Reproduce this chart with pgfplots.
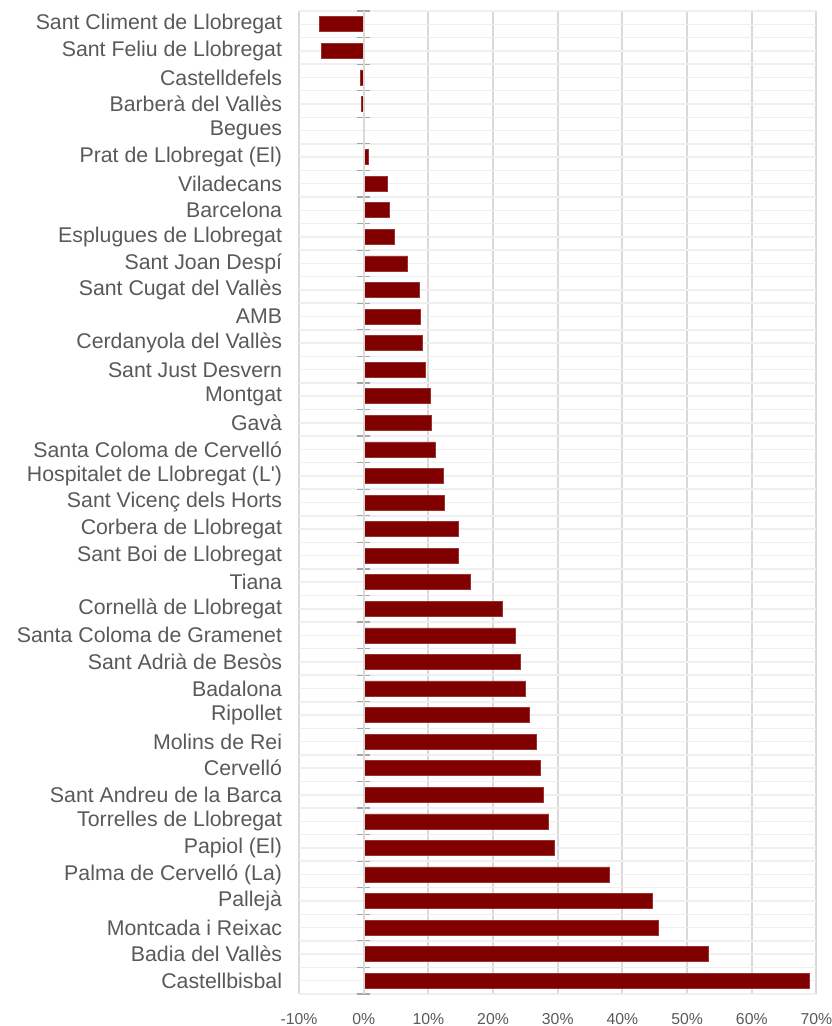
\documentclass[border=0pt]{standalone}
\usepackage{pgfplots}
\pgfplotsset{compat=1.18}
\usepackage{fontspec}
\setmainfont{Liberation Sans}[Ligatures=TeXOff]
\definecolor{barred}{HTML}{800000}
\definecolor{labgray}{HTML}{595959}
\definecolor{vgrid}{HTML}{D9D9D9}
\definecolor{hgrid}{HTML}{EFEFEF}
\begin{document}
\begin{tikzpicture}
\useasboundingbox (-149.5pt,-16pt) rectangle (266pt,497pt);
\begin{axis}[
  at={(0,0)}, anchor=south west, scale only axis,
  width=258.75pt, height=491.5pt,
  xbar, bar width=0.565, y dir=reverse,
  xmin=-10, xmax=70, ymin=-0.5, ymax=36.5,
  xtick={-10,0,10,20,30,40,50,60,70},
  xticklabels={-10\%,0\%,10\%,20\%,30\%,40\%,50\%,60\%,70\%},
  ytick={0,...,36},
  minor ytick={-0.5,0.5,...,36.5},
  yticklabels={Sant Climent de Llobregat,Sant Feliu de Llobregat,Castelldefels,Barberà del Vallès,Begues,Prat de Llobregat (El),Viladecans,Barcelona,Esplugues de Llobregat,Sant Joan Despí,Sant Cugat del Vallès,AMB,Cerdanyola del Vallès,Sant Just Desvern,Montgat,Gavà,Santa Coloma de Cervelló,Hospitalet de Llobregat (L'),Sant Vicenç dels Horts,Corbera de Llobregat,Sant Boi de Llobregat,Tiana,Cornellà de Llobregat,Santa Coloma de Gramenet,Sant Adrià de Besòs,Badalona,Ripollet,Molins de Rei,Cervelló,Sant Andreu de la Barca,Torrelles de Llobregat,Papiol (El),Palma de Cervelló (La),Pallejà,Montcada i Reixac,Badia del Vallès,Castellbisbal},
  xmajorgrids, ymajorgrids, yminorgrids,
  x grid style={draw=vgrid, line width=1pt},
  y grid style={draw=hgrid, line width=0.75pt},
  tick style={draw=none},
  axis line style={draw=none},
  yticklabel style={font=\fontsize{10.65}{12}\selectfont, text=labgray, anchor=east, inner sep=0pt, xshift=-4pt},
  xticklabel style={font=\fontsize{7.9}{9}\selectfont, text=labgray, anchor=north, inner sep=0pt, yshift=-9.5pt},
  clip=false,
]
\addplot[fill=barred, draw=barred!80!white, line width=0.3pt] coordinates {
(-6.8,0) (-6.5,1) (-0.56,2) (-0.35,3) (0,4) (0.7,5) (3.7,6) (3.9,7) (4.7,8) (6.8,9)
(8.6,10) (8.8,11) (9.1,12) (9.6,13) (10.3,14) (10.4,15) (11.0,16) (12.3,17) (12.4,18)
(14.6,19) (14.6,20) (16.5,21) (21.4,22) (23.4,23) (24.2,24) (25.0,25) (25.6,26)
(26.7,27) (27.3,28) (27.7,29) (28.6,30) (29.4,31) (38.0,32) (44.6,33) (45.5,34)
(53.2,35) (68.9,36)};
\end{axis}
\begin{axis}[
  at={(0,0)}, anchor=south west, scale only axis,
  width=258.75pt, height=491.5pt,
  y dir=reverse,
  xmin=-10, xmax=70, ymin=-0.5, ymax=36.5,
  axis x line=none, axis y line=middle,
  axis line style={-, draw=vgrid, line width=1pt},
  ytick={-0.5,0.5,...,36.5}, yticklabels={},
  ytick align=center,
  major tick length=6.5pt,
  ytick style={draw=gray!70, line width=0.6pt},
]
\end{axis}
\end{tikzpicture}
\end{document}
